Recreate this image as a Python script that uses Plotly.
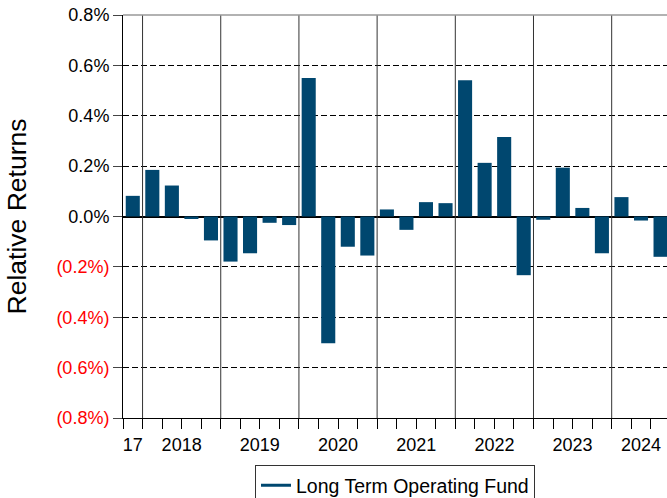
import plotly.graph_objects as go

# Quarterly relative returns (%), Q4 2017 through Q3 2024
quarters = (
    ["2017 Q4"]
    + [f"{y} Q{q}" for y in range(2018, 2024) for q in range(1, 5)]
    + ["2024 Q1", "2024 Q2", "2024 Q3"]
)
relative_returns = [
    0.082,
    0.185, 0.123, -0.010, -0.095,
    -0.179, -0.146, -0.025, -0.034,
    0.550, -0.503, -0.120, -0.155,
    0.028, -0.053, 0.057, 0.053,
    0.541, 0.213, 0.316, -0.233,
    -0.013, 0.194, 0.034, -0.146,
    0.077, -0.016, -0.160,
]
year_labels = ["17", "2018", "2019", "2020", "2021", "2022", "2023", "2024"]
y_ticks = [-0.8, -0.6, -0.4, -0.2, 0.0, 0.2, 0.4, 0.6, 0.8]
series_name = "Long Term Operating Fund"

BAR_COLOR = "#00476F"
FONT = "Liberation Sans, Arial, sans-serif"

x = list(range(len(quarters)))
years = [q.split()[0] for q in quarters]

# centre of each year's bars (label position) and the year boundaries
year_keys = sorted(set(years))
year_centers = []
for yk in year_keys:
    idx = [i for i, y in enumerate(years) if y == yk]
    year_centers.append(sum(idx) / len(idx))
year_bounds = [i - 0.5 for i in range(1, len(years)) if years[i] != years[i - 1]]
quarter_bounds = [i - 0.5 for i in range(len(years))]


def fmt_pct(v):
    if v < 0:
        return f"<span style='color:#FF0000'>({abs(v):.1f}%)</span>"
    return f"{v:.1f}%"


fig = go.Figure()
fig.add_trace(go.Bar(
    x=x, y=relative_returns, marker=dict(color=BAR_COLOR, line=dict(width=0)),
    showlegend=False, name=series_name,
))
# legend entry drawn as a line sample
fig.add_trace(go.Scatter(
    x=[None], y=[None], mode="lines", name=series_name,
    line=dict(color=BAR_COLOR, width=3),
))

for b in year_bounds:
    fig.add_shape(type="line", xref="x", yref="paper", x0=b, x1=b, y0=0, y1=1,
                  line=dict(color="#333333", width=1), layer="above")
# top border
fig.add_shape(type="line", xref="paper", yref="paper", x0=0, x1=1, y0=1, y1=1,
              line=dict(color="#999999", width=1.5), layer="above")

fig.update_layout(
    width=667, height=498,
    margin=dict(l=123, r=0, t=15, b=80, autoexpand=False),
    paper_bgcolor="white", plot_bgcolor="white",
    font=dict(family=FONT, size=18, color="black"),
    bargap=0.28,
    legend=dict(
        orientation="h", x=0.5, xanchor="center", y=-0.117, yanchor="top",
        bordercolor="#333333", borderwidth=1, font=dict(size=19.5),
    ),
    xaxis=dict(
        range=[-0.5, 27.33],
        tickmode="array", tickvals=year_centers, ticktext=year_labels,
        ticks="outside", ticklen=10, tickcolor="rgba(0,0,0,0)",
        showgrid=False, zeroline=False,
        showline=True, linecolor="black", linewidth=1,
        minor=dict(tickmode="array", tickvals=quarter_bounds, ticks="outside",
                   ticklen=10, tickcolor="black", tickwidth=1, showgrid=False),
    ),
    yaxis=dict(
        range=[-0.8, 0.8],
        tickmode="array", tickvals=y_ticks, ticktext=[fmt_pct(v) for v in y_ticks],
        ticks="outside", ticklen=9, tickcolor="#444444",
        showgrid=True, gridcolor="black", gridwidth=1, griddash="6px,3px",
        zeroline=True, zerolinecolor="black", zerolinewidth=2,
        showline=True, linecolor="black", linewidth=1,
        title=dict(text="Relative Returns", font=dict(size=26.5), standoff=22),
    ),
)

fig.write_html("out.html")
